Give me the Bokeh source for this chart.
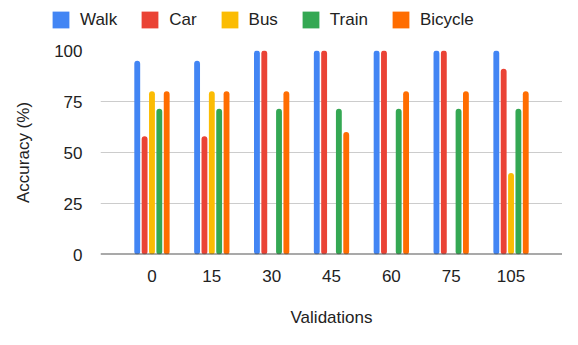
from bokeh.plotting import figure
from bokeh.models import (ColumnDataSource, FactorRange, Range1d, Legend, LegendItem,
                          FixedTicker, Span)
from bokeh.layouts import column, row
from bokeh.transform import dodge
from bokeh.embed import file_html
from bokeh.resources import INLINE

validations = ["0", "15", "30", "45", "60", "75", "105"]
walk = [95, 95, 100, 100, 100, 100, 100]
car = [58, 58, 100, 100, 100, 100, 91]
bus = [80, 80, 0, 0, 0, 0, 40]
train = [71.4, 71.4, 71.4, 71.4, 71.4, 71.4, 71.4]
bicycle = [80, 80, 80, 60, 80, 80, 80]

series = ["Walk", "Car", "Bus", "Train", "Bicycle"]
colors = ["#4285F4", "#EA4335", "#FBBC04", "#34A853", "#FF6D01"]

source = ColumnDataSource(dict(x=validations, Walk=walk, Car=car, Bus=bus,
                               Train=train, Bicycle=bicycle))

FONT = "Liberation Sans"
W = 562
LEG_H = 40

x_range = FactorRange(*validations, range_padding=0.36, range_padding_units="absolute")
p = figure(x_range=x_range, y_range=Range1d(0, 100), width=W, height=329 - LEG_H,
           output_backend="svg", toolbar_location=None,
           min_border_left=100, min_border_right=0, min_border_top=10,
           min_border_bottom=74)
p.outline_line_color = None

step = 0.123
for i, (name, col) in enumerate(zip(series, colors)):
    p.vbar(x=dodge("x", (i - 2) * step, range=x_range), top=name, width=0.098,
           bottom=0, source=source, fill_color=col, line_color=None,
           border_radius=3)

# axes
p.yaxis.ticker = FixedTicker(ticks=[0, 25, 50, 75, 100])
for ax in (p.xaxis[0], p.yaxis[0]):
    ax.axis_line_color = None
    ax.major_tick_line_color = None
    ax.minor_tick_line_color = None
    ax.major_label_text_font = FONT
    ax.major_label_text_font_size = "17px"
    ax.major_label_text_color = "#222222"
    ax.axis_label_text_font = FONT
    ax.axis_label_text_font_size = "17px"
    ax.axis_label_text_font_style = "normal"
    ax.axis_label_text_color = "#222222"

p.yaxis.axis_label = "Accuracy (%)"
p.yaxis.major_label_standoff = 12
p.yaxis.axis_label_standoff = 18
p.xaxis.axis_label = "Validations"
p.xaxis.major_label_standoff = 9
p.xaxis.axis_label_standoff = 23

p.xgrid.grid_line_color = None
p.ygrid.grid_line_color = "#cccccc"
p.ygrid.grid_line_width = 1

p.add_layout(Span(location=0, dimension="width", line_color="#555555", line_width=2))

# legend strip on top (its bars lie outside its view; only the legend shows)
lg = figure(width=W, height=LEG_H, x_range=FactorRange(*validations),
            y_range=Range1d(1000, 1001),
            x_axis_type=None, y_axis_type=None,
            output_backend="svg", toolbar_location=None,
            min_border_left=0, min_border_right=0, min_border_top=0, min_border_bottom=0)
lg.grid.visible = False
lg.outline_line_color = None
leg_renderers = []
for name, col in zip(series, colors):
    leg_renderers.append(lg.vbar(x="x", top=name, bottom=0, width=0.1, source=source,
                                 fill_color=col, line_color=None))

legend = Legend(items=[LegendItem(label=s, renderers=[r]) for s, r in zip(series, leg_renderers)],
                orientation="horizontal", location=(50, 10),
                padding=0, margin=0, spacing=22, label_standoff=9,
                glyph_width=21, glyph_height=21, label_height=21,
                label_text_font=FONT, label_text_font_size="17px",
                label_text_color="#222222", border_line_color=None,
                background_fill_alpha=0)
lg.add_layout(legend)

layout = column(row(lg), p, spacing=0)
open("out.html", "w").write(file_html(layout, INLINE))
